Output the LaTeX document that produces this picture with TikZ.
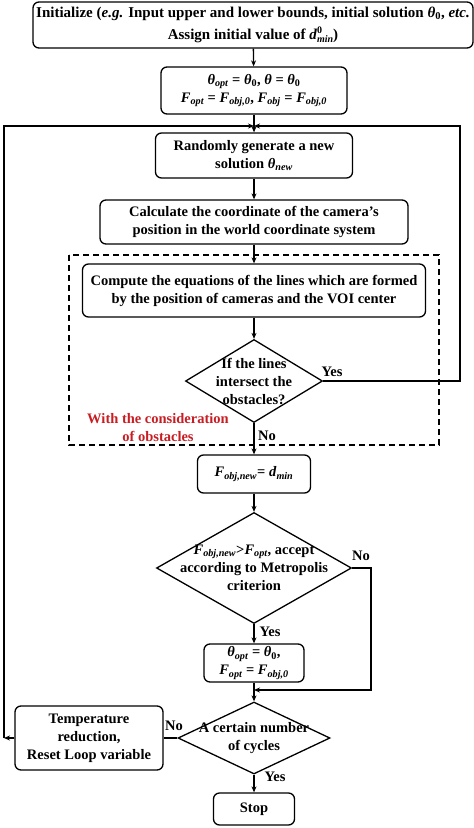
\documentclass[tikz,border=0pt]{standalone}
\usepackage{fontspec}
\setmainfont{Liberation Serif}
\usetikzlibrary{shapes.geometric,arrows.meta}
\definecolor{redtxt}{RGB}{200,30,35}
\newcommand\ssb[1]{\textsubscript{\itshape #1}}
\newcommand\mi[1]{\textit{#1}}
\begin{document}
\begin{tikzpicture}[x=1pt,y=-1pt,
  box/.style={draw, line width=1.3pt, rounded corners=6pt, align=center, inner sep=0pt, font=\fontsize{14.5}{18}\selectfont\bfseries},
  dia/.style={draw, diamond, line width=1.3pt, inner sep=0pt},
  lab/.style={font=\fontsize{14.5}{18}\selectfont\bfseries, align=center},
  conn/.style={line width=1.3pt, -{Stealth[length=6pt,width=5pt]}},
  plain/.style={line width=1.3pt}]
\useasboundingbox (0,0) rectangle (474,828);
% dashed frame
\draw[line width=1.3pt, dash pattern=on 6pt off 4pt] (69,255) rectangle (439,445);
% boxes
\node[box, minimum width=440, minimum height=46, font=\fontsize{15}{22}\selectfont\bfseries] (b1) at (253,25)
  {Initialize (\mi{e.g.} Input upper and lower bounds, initial solution \mi{θ}\textsubscript{0}, \mi{etc.}\\
   Assign initial value of \mi{d}{\fontsize{10}{10}\selectfont\ooalign{\raisebox{6pt}{0}\cr\raisebox{-3pt}{\mi{min}}\cr}})};
\node[box, minimum width=186, minimum height=47] (b2) at (254,90.5)
  {\mi{θ}\ssb{opt} = \mi{θ}\textsubscript{0}, \mi{θ} = \mi{θ}\textsubscript{0}\\
   \mi{F}\ssb{opt} = \mi{F}\ssb{obj,0}, \mi{F}\ssb{obj} = \mi{F}\ssb{obj,0}};
\coordinate (m) at (254,126);
\node[box, minimum width=197, minimum height=45] (b3) at (254,155.5)
  {Randomly generate a new\\ solution \mi{θ}\ssb{new}};
\node[box, minimum width=308, minimum height=44] (b4) at (254,222)
  {Calculate the coordinate of the camera's\\ position in the world coordinate system};
\node[box, minimum width=343, minimum height=53] (b5) at (254,290.5)
  {Compute the equations of the lines which are formed\\ by the position of cameras and the VOI center};
\node[dia, minimum width=137, minimum height=83] (d1) at (254,381) {};
\node[lab] (d1t) at (d1) {If the lines\\ intersect the\\ obstacles?};
\node[lab, text=redtxt] (red) at (158,428) {With the consideration\\ of obstacles};
\node[box, minimum width=113, minimum height=38] (b6) at (254,474)
  {\mi{F}\ssb{obj,new}= \mi{d}\ssb{min}};
\node[dia, minimum width=195, minimum height=111] (d2) at (254,568) {};
\node[lab] (d2t) at (d2) {\mi{F}\ssb{obj,new}>\mi{F}\ssb{opt}, accept\\ according to Metropolis\\ criterion};
\node[box, minimum width=100, minimum height=38] (b7) at (254,663)
  {\mi{θ}\ssb{opt} = \mi{θ}\textsubscript{0},\\ \mi{F}\ssb{opt} = \mi{F}\ssb{obj,0}};
\node[dia, minimum width=152, minimum height=72] (d3) at (254,738) {};
\node[lab] (d3t) at (d3) {A certain number\\ of cycles};
\node[box, minimum width=148, minimum height=64] (b8) at (89,738)
  {Temperature\\ reduction,\\ Reset Loop variable};
\node[box, minimum width=81, minimum height=32] (stop) at (254,809) {Stop};
% coordinates
\coordinate (rY) at (460,126);
\coordinate (lL) at (4,126);
\coordinate (lB) at (4,738);
\coordinate (r2) at (371,690);
\coordinate (j2) at (254,690);
% connectors
\draw[conn] (b1) -- (b2);
\draw[conn] (b2) -- (b3);
\draw[conn] (b3) -- (b4);
\draw[conn] (b4) -- (b5);
\draw[conn] (b5) -- (d1);
\draw[conn] (d1) -- (b6);
\draw[conn] (d1.east) -| (rY) -- (m);
\draw[conn] (b6) -- (d2);
\draw[conn] (d2) -- (b7);
\draw[conn] (d2.east) -| (r2) -- (j2);
\draw[conn] (b7) -- (d3);
\draw[conn] (d3) -- (stop);
\draw[plain] (d3.west) -- (b8.east);
\draw[conn] (b8.west) -- (lB);
\draw[conn] (lB) -- (lL) -- (m);
% labels
\node[lab] (y1) at (332,372) {Yes};
\node[lab] (n1) at (267,436) {No};
\node[lab] (n2) at (361,556) {No};
\node[lab] (y2) at (270,632) {Yes};
\node[lab] (n3) at (174,726) {No};
\node[lab] (y3) at (275,777) {Yes};
\end{tikzpicture}
\end{document}
